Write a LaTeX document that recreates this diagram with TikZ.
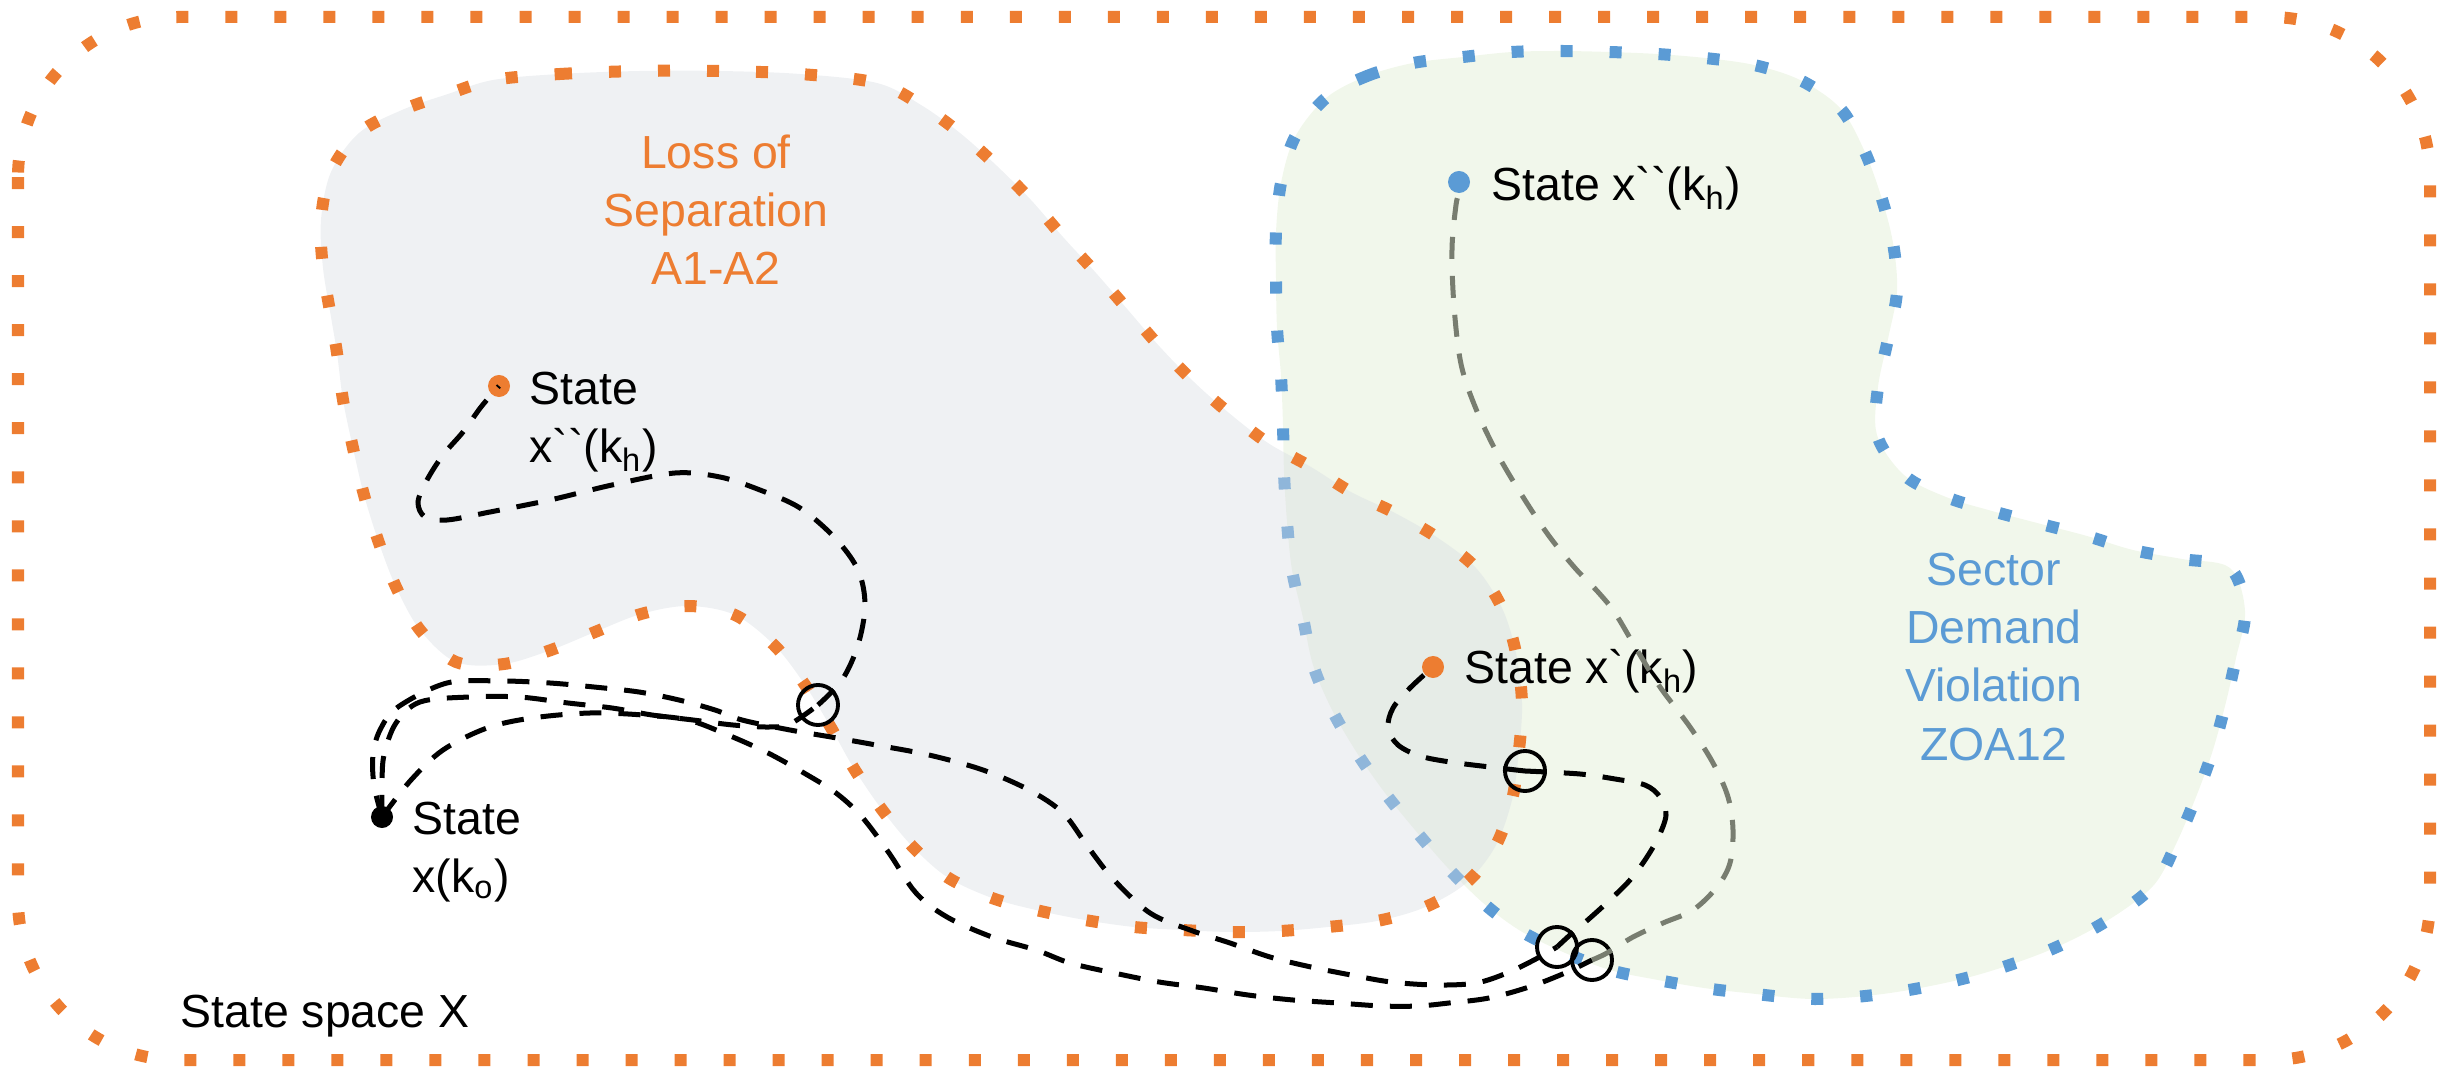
\documentclass[tikz,border=0pt]{standalone}
\usepackage{fontspec}
\setmainfont{Liberation Sans}
\usetikzlibrary{positioning,calc}

\definecolor{lossorange}{HTML}{ED7D31}
\definecolor{sectorblue}{HTML}{5B9BD5}
\definecolor{lossgrey}{HTML}{D9DDE3}
\definecolor{sectorgreen}{HTML}{F1F7EB}
\definecolor{trajgrey}{HTML}{787D70}
\newcommand{\grv}{\textasciigrave}

\begin{document}
\begin{tikzpicture}[
    x=0.01cm, y=-0.01cm,
    font=\fontsize{13.2}{16.5}\selectfont,
    squares/.style={line width=0.12cm, dash pattern=on 0.12cm off 0.37cm},
    region/.style={squares, smooth cycle, tension=0.55},
    traj/.style={line width=0.05cm, dash pattern=on 0.22cm off 0.17cm, smooth, tension=0.55},
    state/.style={circle, inner sep=0pt, minimum size=0.22cm},
    cross/.style={circle, draw=black, line width=1.1pt, inner sep=0pt, minimum size=0.40cm},
    lbl/.style={align=left, inner sep=0pt},
    title/.style={align=center, inner sep=0pt}
  ]
    \useasboundingbox (0,0) rectangle (2448,1067);

    % state space X
    \draw[squares, lossorange, rounded corners=1.6cm] (18,17) rectangle (2430,1060);
    \node[lbl, anchor=base west] (space) at (180,1027) {State space X};

    % sector demand violation ZOA12
    \filldraw[region, draw=sectorblue, fill=sectorgreen] plot coordinates {
      (1326,98) (1367,76) (1413,63) (1463,57) (1512,52) (1560,51) (1609,52)
      (1657,54) (1705,58) (1754,65) (1800,80) (1840,108) (1864,150) (1881,196)
      (1893,243) (1897,291) (1888,339) (1878,387) (1877,435) (1904,475)
      (1946,497) (1992,511) (2041,524) (2087,536) (2133,550) (2182,559)
      (2230,568) (2245,611) (2236,658) (2225,706) (2212,753) (2196,797)
      (2176,844) (2153,886) (2105,922) (2045,952) (1970,977) (1890,993)
      (1815,999) (1747,993) (1704,988) (1658,980) (1610,970) (1563,952)
      (1519,930) (1482,902) (1447,867) (1415,830) (1385,793) (1357,753)
      (1332,710) (1313,665) (1303,618) (1292,570) (1287,522) (1284,473)
      (1283,425) (1281,376) (1277,328) (1276,279) (1276,232) (1281,183) (1295,137)};

    % loss of separation A1-A2
    \filldraw[region, draw=lossorange, fill=lossgrey, fill opacity=0.42] plot coordinates {
      (493,80) (560,74) (640,71) (720,71) (800,74) (877,83) (921,105) (960,133)
      (997,166) (1031,200) (1063,237) (1096,273) (1128,310) (1160,347)
      (1194,382) (1229,413) (1268,443) (1311,467) (1351,492) (1395,513)
      (1438,538) (1476,568) (1502,608) (1516,653) (1522,703) (1519,750)
      (1512,800) (1495,847) (1465,884) (1423,908) (1377,921) (1328,927)
      (1280,931) (1231,932) (1182,930) (1134,927) (1085,920) (1036,910)
      (992,898) (947,877) (911,845) (880,807) (853,767) (830,726) (803,682)
      (774,645) (735,615) (688,606) (641,614) (595,632) (551,650) (504,664)
      (456,662) (420,630) (396,587) (379,543) (364,495) (353,448) (343,400)
      (337,353) (331,317) (323,268) (321,220) (331,172) (359,133) (402,110) (448,94)};

    % titles: base anchor sits on the last line
    \node[title, text=lossorange, anchor=base] (los) at (716,285) {Loss of\\Separation\\A1-A2};
    \node[title, text=sectorblue, anchor=base] (zoa) at (1994,760) {Sector\\Demand\\Violation\\ZOA12};

    % states and crossings
    \node[state, fill=black] (x0) at (382,817) {};
    \node[state, fill=lossorange] (xppl) at (499,386) {};
    \node[state, fill=lossorange] (xp) at (1433,667) {};
    \node[state, fill=sectorblue] (xppr) at (1459,182) {};
    \node[cross] (c1) at (818,705) {};
    \node[cross] (c2) at (1525,771) {};
    \node[cross] (c3) at (1557,947) {};
    \node[cross] (c4) at (1592,960) {};

    \node[lbl, anchor=base west] (lx0) at ([xshift=0.18cm, yshift=-0.75cm]x0.east) {State\\x(k\textsubscript{o})};
    \node[lbl, anchor=base west] (lxppl) at ([xshift=0.18cm, yshift=-0.76cm]xppl.east) {State\\x\grv\grv(k\textsubscript{h})};
    \node[lbl, anchor=base west] (lxp) at ([xshift=0.19cm, yshift=-0.16cm]xp.east) {State x\grv(k\textsubscript{h})};
    \node[lbl, anchor=base west] (lxppr) at ([xshift=0.2cm, yshift=-0.18cm]xppr.east) {State x\grv\grv(k\textsubscript{h})};

    % trajectories
    \draw[traj] plot coordinates {(x0.center) (382,785) (384,755) (396,723)
      (420,702) (469,697) (519,697) (568,703) (612,708) (652,715) (693,720)
      (733,725) (769,727) (790,724) (c1.center)};
    \draw[traj] plot coordinates {(c1.center) (842,680) (858,645) (865,605)
      (858,570) (835,538) (800,508) (760,490) (720,477) (675,473) (612,485)
      (550,500) (490,512) (447,520) (425,517) (418,502) (427,480) (443,455)
      (463,432) (481,407) (xppl.center)};
    \draw[traj] plot coordinates {(x0.center) (374,785) (373,755) (380,730)
      (398,707) (447,683) (501,681) (550,683) (594,687) (639,692) (679,700)
      (715,710) (742,720) (790,730) (831,737) (876,745) (929,755) (983,770)
      (1029,790) (1063,813) (1088,847) (1114,880) (1150,913) (1190,930)
      (1230,943) (1270,957) (1311,967) (1351,975) (1391,982) (1436,985)
      (1476,983) (1507,973) (1534,960) (c3.center)};
    \draw[traj] plot coordinates {(c3.center) (1570,935) (1590,918) (1612,898)
      (1630,880) (1645,860) (1658,838) (1666,815) (1660,797) (1645,785)
      (1615,779) (1580,774) (c2.center)};
    \draw[traj] plot coordinates {(c2.center) (1490,767) (1450,762) (1420,756)
      (1398,745) (1388,728) (1393,708) (1410,688) (xp.center)};
    \draw[traj] plot coordinates {(x0.center) (411,780) (443,750) (487,728)
      (532,718) (590,713) (643,715) (688,720) (728,735) (768,753) (804,773)
      (836,793) (862,817) (889,853) (916,893) (947,917) (992,937) (1036,950)
      (1070,963) (1114,973) (1159,982) (1204,988) (1248,995) (1293,1000)
      (1338,1003) (1382,1006) (1418,1006) (1449,1003) (1489,998) (1529,987)
      (1565,973) (c4.center)};
    \draw[traj, trajgrey] plot coordinates {(c4.center) (1607,953) (1633,937)
      (1663,923) (1693,910) (1717,887) (1730,863) (1733,830) (1728,797)
      (1713,763) (1690,727) (1660,687) (1637,650) (1615,613) (1598,592)
      (1575,568) (1549,536) (1523,497) (1498,455) (1476,409) (1461,364)
      (1454,306) (1452,249) (1456,205) (xppr.south)};
\end{tikzpicture}
\end{document}
